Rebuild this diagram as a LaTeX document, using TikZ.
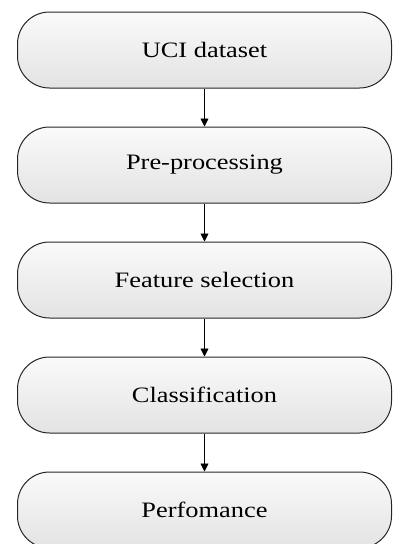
\documentclass[tikz,border=0pt]{standalone}
\usepackage{fontspec}
\setmainfont{Liberation Serif}[FakeStretch=1.2]
\usepackage{tikz}
\usetikzlibrary{positioning,arrows.meta,shadings}

\begin{document}
\begin{tikzpicture}[
    x=1pt, y=1pt,
    node distance=38pt,
    stage/.style={rectangle, rounded corners=32pt, draw=black!85, line width=1pt,
        top color=black!2, bottom color=black!11, minimum width=374pt,
        minimum height=76pt, inner sep=0pt, text centered, font=\fontsize{22}{26}\selectfont},
    flow/.style={-{Triangle[length=8pt,width=8pt]}, line width=0.9pt, black}
]
    \useasboundingbox (0,0) rectangle (392,-544);
    \node[stage] (uci) at (204.5,-50) {UCI dataset};
    \node[stage, below=of uci] (pre) {Pre-processing};
    \node[stage, below=of pre] (feat) {Feature selection};
    \node[stage, below=of feat] (cls) {Classification};
    \node[stage, below=of cls] (perf) {Perfomance};

    \draw[flow] (uci) -- (pre);
    \draw[flow] (pre) -- (feat);
    \draw[flow] (feat) -- (cls);
    \draw[flow] (cls) -- (perf);
\end{tikzpicture}
\end{document}
